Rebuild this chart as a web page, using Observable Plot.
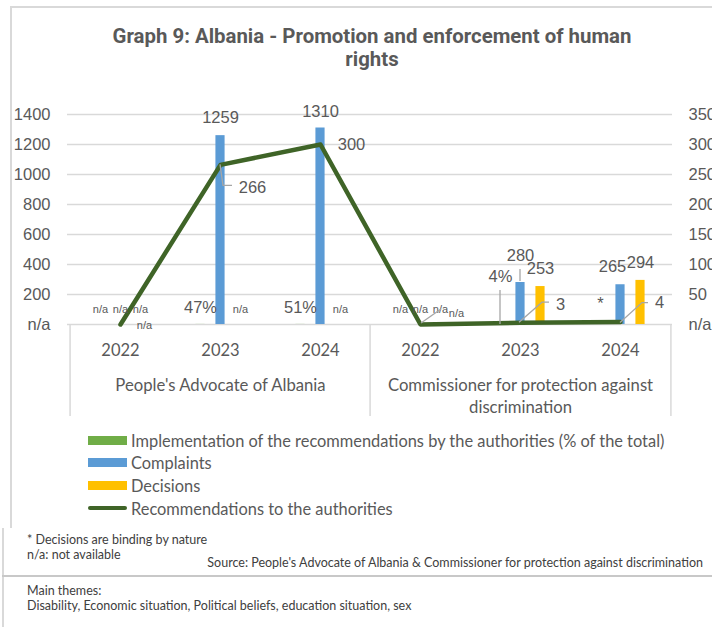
<!DOCTYPE html>
<html>
<head>
<meta charset="utf-8">
<script src="https://cdn.jsdelivr.net/npm/d3@7"></script>
<script src="https://cdn.jsdelivr.net/npm/@observablehq/plot@0.6"></script>
<style>
  body { margin: 0; background: #fff; }
  #page { position: relative; width: 712px; height: 627px; overflow: hidden; color: #595959; font-family: Lato, "Open Sans", sans-serif; }
  .ln { position: absolute; background: #d9d9d9; }
  #title { position: absolute; left: 10px; width: 724px; top: 25px; text-align: center; font-family: Roboto, "Open Sans", sans-serif; font-weight: bold; font-size: 20.4px; line-height: 23px; color: #595959; }
  #chart { position: absolute; left: 0; top: 90px; }
  .leg { position: absolute; left: 88px; height: 20px; display: flex; align-items: center; font-size: 16.4px; white-space: nowrap; }
  .sw { width: 39px; margin-right: 4px; }
  .note { position: absolute; font-family: Lato, sans-serif; font-size: 12.5px; white-space: nowrap; color: #404040; }
</style>
</head>
<body>
<div id="page">
  <div class="ln" style="left:10px;top:6px;width:702px;height:2px;"></div>
  <div class="ln" style="left:10px;top:6px;width:2px;height:522px;"></div>
  <div class="ln" style="left:2px;top:528px;width:2px;height:99px;"></div>
  <div class="ln" style="left:2px;top:575px;width:710px;height:2px;background:#c8c8c8;"></div>
  <div id="title">Graph 9: Albania - Promotion and enforcement of human<br>rights</div>
  <div id="chart"></div>
  <div id="legend"></div>
  <div class="note" style="left:27px;top:532px;">* Decisions are binding by nature</div>
  <div class="note" style="left:27px;top:547px;">n/a: not available</div>
  <div class="note" style="right:9px;top:555px;">Source: People's Advocate of Albania &amp; Commissioner for protection against discrimination</div>
  <div class="note" style="left:27px;top:583px;">Main themes:</div>
  <div class="note" style="left:27px;top:598px;">Disability, Economic situation, Political beliefs, education situation, sex</div>
</div>
<script>
// ---- data ----
const institutions = ["People's Advocate of Albania", "Commissioner for protection against discrimination"];
const institutionLabels = ["People's Advocate of Albania", "Commissioner for protection against\ndiscrimination"];
const years = ["2022", "2023", "2024"];
const implementation = [null, 0.47, 0.51, null, 0.04, null];   // share of recommendations implemented
const implementationNotes = [null, null, null, null, null, "*"];
const complaints = [null, 1259, 1310, null, 280, 265];
const decisions = [null, null, null, null, 253, 294];
const recommendations = [null, 266, 300, null, 3, 4];
const leftTicks = [0, 200, 400, 600, 800, 1000, 1200, 1400];
const rightTicks = [0, 50, 100, 150, 200, 250, 300, 350];

const seriesNames = ["Implementation of the recommendations by the authorities (% of the total)", "Complaints", "Decisions", "Recommendations to the authorities"];
const colors = ["#70ad47", "#5b9bd5", "#ffc000", "#3f6427"];

// ---- table ----
const rows = [];
institutions.forEach((inst, i) => years.forEach((yr, j) => {
  const k = i * 3 + j;
  rows.push({
    key: inst + "|" + yr, inst, year: yr,
    implementation: implementation[k], note: implementationNotes[k],
    complaints: complaints[k], decisions: decisions[k], recommendations: recommendations[k]
  });
}));
const keys = rows.map(d => d.key);
const ratio = leftTicks[leftTicks.length - 1] / rightTicks[rightTicks.length - 1];

// layout
const W = 712, H = 330, mL = 67, mR = 40, mT = 24, mB = 96;
const bandW = (W - mL - mR) / keys.length;
const barW = 10, gap = 20;
const inset = (bandW - barW) / 2;
const offs = { implementation: -gap, complaints: 0, decisions: gap, recommendations: 0 };
const valueSize = 16.5, naSize = 11;

// label nudges (pixels) for particular labels
const nudge = {};
nudge["complaints|" + keys[2]] = { dy: -16 };
nudge["complaints|" + keys[4]] = { dy: -27 };
nudge["complaints|" + keys[5]] = { dx: -8 };
nudge["implementation|" + keys[4]] = { dy: -48 };
nudge["implementation|" + keys[5]] = { dy: -21 };
nudge["recommendations|" + keys[0]] = { dx: 24, dy: 1 };
nudge["recommendations|" + keys[1]] = { dx: 32, dy: 23 };
nudge["recommendations|" + keys[2]] = { dx: 31, dy: 0 };
nudge["recommendations|" + keys[3]] = { dx: 36, dy: -11 };
nudge["recommendations|" + keys[4]] = { dx: 40, dy: -18 };
nudge["recommendations|" + keys[5]] = { dx: 39, dy: -19 };

const labels = [];
rows.forEach(r => {
  ["implementation", "complaints", "decisions", "recommendations"].forEach(s => {
    const v = r[s];
    let text, y, size, dy;
    if (s === "implementation") {
      if (r.note) { text = r.note; size = valueSize; dy = -17; }
      else if (v == null) { text = "n/a"; size = naSize; dy = -15; }
      else { text = d3.format(".0%")(v); size = valueSize; dy = -17; }
      y = 0;
    } else if (s === "recommendations") {
      y = (v ?? 0) * ratio;
      text = v == null ? "n/a" : String(v);
      size = v == null ? naSize : valueSize; dy = 0;
    } else {
      y = v ?? 0;
      text = v == null ? "n/a" : String(v);
      size = v == null ? naSize : valueSize; dy = v == null ? -15 : -18;
    }
    const n = nudge[s + "|" + r.key] || {};
    labels.push({ key: r.key, y, text, size, dx: offs[s] + (n.dx ?? 0), dy: n.dy ?? dy });
  });
});
const labelMarks = d3.groups(labels, d => d.dx + "," + d.dy + "," + d.size).map(([, g]) =>
  Plot.text(g, { x: "key", y: "y", text: "text", dx: g[0].dx, dy: g[0].dy, fontSize: g[0].size, fill: "#595959" })
);

// leader lines: anchored at a data point, polyline in pixel offsets
const leaderSpecs = [
  { key: keys[1], v: 266 * ratio, ox: 0, pts: [[0, 0], [3, 21], [12, 21]] },
  { key: keys[3], v: 0, ox: 0, pts: [[1, -1], [21, -15]] },
  { key: keys[4], v: 3 * ratio, ox: 0, pts: [[-1, 0], [22, -20], [29, -20]] },
  { key: keys[5], v: 4 * ratio, ox: 0, pts: [[0, 1], [22, -19], [28, -19]] },
  { key: keys[4], v: 0, ox: -gap, pts: [[0, 0], [0, -34]] },
  { key: keys[4], v: 280, ox: 0, pts: [[0, -1], [0, -13]] }
];

const chart = Plot.plot({
  width: W, height: H, marginTop: mT, marginBottom: mB, marginLeft: mL, marginRight: mR,
  style: { fontFamily: "'Liberation Sans', Arial, sans-serif", fontSize: "15px", color: "#595959", background: "transparent", overflow: "visible" },
  x: { type: "band", domain: keys, padding: 0, axis: null },
  y: { domain: [0, 1400], axis: null },
  marks: [
    Plot.gridY({ ticks: leftTicks.filter(d => d > 0), stroke: "#d9d9d9", strokeOpacity: 1, strokeWidth: 1.5 }),
    Plot.ruleY([0], { stroke: "#d9d9d9", strokeWidth: 1.5 }),
    Plot.ruleX([keys[0], keys[3]], { x: d => d, dx: -bandW / 2, insetTop: H - mT - mB, insetBottom: -92, stroke: "#d9d9d9", strokeWidth: 1.5 }),
    Plot.ruleX([keys[5]], { x: d => d, dx: bandW / 2, insetTop: H - mT - mB, insetBottom: -92, stroke: "#d9d9d9", strokeWidth: 1.5 }),
    Plot.axisY({ ticks: leftTicks, anchor: "left", tickSize: 0, tickPadding: 17, label: null, tickFormat: d => d === 0 ? "n/a" : String(d), fontSize: 16.5, fill: "#595959" }),
    Plot.axisY({ ticks: leftTicks, anchor: "right", tickSize: 0, tickPadding: 16, label: null, tickFormat: d => d === 0 ? "n/a" : String(d / ratio), fontSize: 16.5, fill: "#595959" }),
    Plot.text(rows, { x: "key", text: "year", frameAnchor: "bottom", lineAnchor: "middle", dy: 26, fontSize: 16.5, fontFamily: "Lato, sans-serif", fill: "#595959" }),
    Plot.text(institutions.map((d, i) => ({ key: keys[i * 3 + 1], label: institutionLabels[i] })),
      { x: "key", text: "label", frameAnchor: "bottom", lineAnchor: "top", dy: 50, lineHeight: 1.35, fontSize: 16.7, fontFamily: "Lato, sans-serif", fill: "#595959" }),
    Plot.barY(rows, { x: "key", y: "implementation", fill: colors[0], dx: offs.implementation, insetLeft: inset, insetRight: inset }),
    Plot.barY(rows, { x: "key", y: "complaints", fill: colors[1], dx: offs.complaints, insetLeft: inset, insetRight: inset }),
    Plot.barY(rows, { x: "key", y: "decisions", fill: colors[2], dx: offs.decisions, insetLeft: inset, insetRight: inset }),
    Plot.lineY(rows, { x: "key", y: d => (d.recommendations ?? 0) * ratio, stroke: colors[3], strokeWidth: 4.5, strokeLinejoin: "round" }),
    ...labelMarks
  ]
});

// draw leader lines with the chart's own scales
const xs = chart.scale("x"), ys = chart.scale("y");
const bw = xs.bandwidth ?? bandW;
const lg = d3.select(chart).append("g").attr("fill", "none").attr("stroke", "#a6a6a6").attr("stroke-width", 1.3);
leaderSpecs.forEach(s => {
  const cx = xs.apply(s.key) + bw / 2 + s.ox, cy = ys.apply(s.v);
  lg.append("path").attr("d", d3.line()(s.pts.map(([a, b]) => [cx + a, cy + b])));
});
document.getElementById("chart").appendChild(chart);

// legend
const legend = document.getElementById("legend");
const rowsY = [430, 452, 475, 498];
seriesNames.forEach((name, i) => {
  const el = document.createElement("div");
  el.className = "leg";
  el.style.top = rowsY[i] + "px";
  const sw = document.createElement("div");
  sw.className = "sw";
  sw.style.background = colors[i];
  sw.style.height = i === 3 ? "4px" : "9px";
  if (i === 3) sw.style.borderRadius = "2px";
  el.appendChild(sw);
  el.appendChild(document.createTextNode(name));
  legend.appendChild(el);
});
</script>
</body>
</html>
